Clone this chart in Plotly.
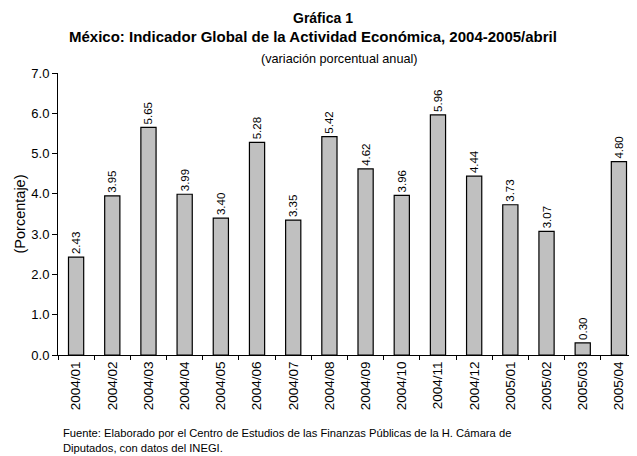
import plotly.graph_objects as go

periodos = ["2004/01", "2004/02", "2004/03", "2004/04", "2004/05", "2004/06",
            "2004/07", "2004/08", "2004/09", "2004/10", "2004/11", "2004/12",
            "2005/01", "2005/02", "2005/03", "2005/04"]
variacion = [2.43, 3.95, 5.65, 3.99, 3.40, 5.28, 3.35, 5.42,
             4.62, 3.96, 5.96, 4.44, 3.73, 3.07, 0.30, 4.80]

FONT = "Arial, Liberation Sans, sans-serif"

fig = go.Figure()
fig.add_trace(
    go.Bar(
        x=periodos,
        y=variacion,
        marker=dict(color="#c0c0c0", line=dict(color="black", width=1.2)),
        width=0.42,
        text=[f"{v:.2f}" for v in variacion],
        textposition="outside",
        textangle=-90,
        constraintext="none",
        textfont=dict(size=11.5, color="black", family=FONT),
        cliponaxis=False,
    )
)

# page body has an 8px margin, so the figure is 8px smaller than the window
fig.update_layout(
    width=629,
    height=448,
    margin=dict(l=50, r=0, t=65, b=101),
    paper_bgcolor="white",
    plot_bgcolor="white",
    showlegend=False,
    font=dict(family=FONT, size=12, color="black"),
    annotations=[
        dict(text="<b>Gráfica 1</b>", x=0.457, y=1.195, xref="paper", yref="paper",
             yanchor="middle", showarrow=False, font=dict(size=14)),
        dict(text="<b>México: Indicador Global de la Actividad Económica, 2004-2005/abril</b>",
             x=0.44, y=1.128, xref="paper", yref="paper", yanchor="middle",
             showarrow=False, font=dict(size=15)),
        dict(text="(variación porcentual anual)", x=0.487, y=1.048,
             xref="paper", yref="paper", yanchor="middle", showarrow=False,
             font=dict(size=12.7)),
        dict(text="Fuente: Elaborado por el Centro de Estudios de las Finanzas Públicas de la H. Cámara de<br>"
                  "Diputados, con datos del INEGI.",
             x=0.005, y=-0.248, xref="paper", yref="paper", xanchor="left", yanchor="top",
             align="left", showarrow=False, font=dict(size=11.2)),
    ],
)

fig.update_xaxes(
    type="category",
    tickangle=-90,
    showline=True,
    linecolor="black",
    linewidth=1,
    ticks="outside",
    tickson="boundaries",
    ticklen=4,
    tickcolor="black",
    showgrid=False,
    automargin=False,
    tickfont=dict(size=13.5),
)
fig.update_yaxes(
    range=[0, 7],
    dtick=1,
    tickformat=".1f",
    showline=True,
    linecolor="black",
    linewidth=1,
    ticks="outside",
    ticklen=5,
    tickcolor="black",
    showgrid=False,
    zeroline=False,
    automargin=False,
    title=dict(text="(Porcentaje)", font=dict(size=14.5), standoff=2),
    tickfont=dict(size=13),
)

fig.write_html("out.html")
